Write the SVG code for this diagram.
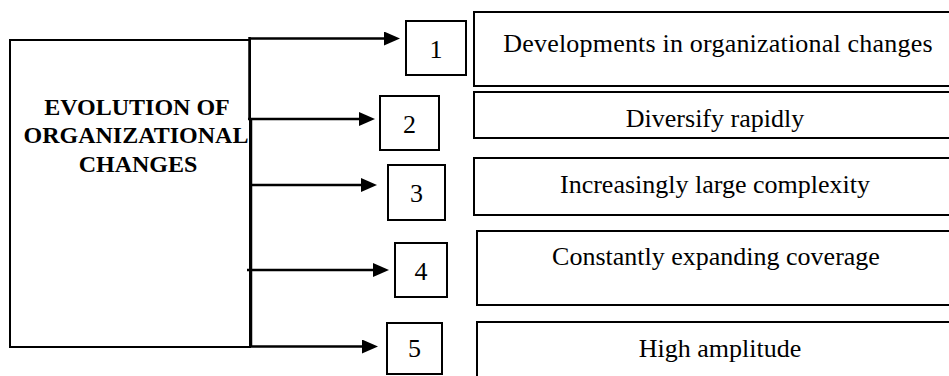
<svg xmlns="http://www.w3.org/2000/svg" width="949" height="376" viewBox="0 0 949 376">
<style>
.box{fill:none;stroke:#000;stroke-width:2}
.nbox{fill:#fff;stroke:#000;stroke-width:2}
.t{font-family:'Liberation Serif','Times New Roman',serif;font-size:26px;fill:#000;text-anchor:middle}
.b{font-family:'Liberation Serif','Times New Roman',serif;font-size:24px;font-weight:bold;fill:#000;text-anchor:middle}
.c{fill:none;stroke:#000;stroke-width:2.5}
</style>
<defs>
<marker id="ah" viewBox="0 0 16 14" refX="4" refY="7" markerWidth="16" markerHeight="14" markerUnits="userSpaceOnUse" orient="auto">
<path d="M0,0 L16,7 L0,14 z" fill="#000"/>
</marker>
</defs>
<rect width="949" height="376" fill="#fff"/>
<g id="main">
<rect class="box" x="10" y="40" width="240" height="307"/>
<text class="b" x="137" y="115">EVOLUTION OF</text>
<text class="b" x="136" y="143">ORGANIZATIONAL</text>
<text class="b" x="138" y="172">CHANGES</text>
</g>
<g id="connectors">
<path class="c" d="M249.5,37 V120"/>
<path class="c" d="M251,118 V347"/>
<path class="c" d="M249,38.5 H388" marker-end="url(#ah)"/>
<path class="c" d="M248,119 H363" marker-end="url(#ah)"/>
<path class="c" d="M251,185 H365" marker-end="url(#ah)"/>
<path class="c" d="M247,270 H377" marker-end="url(#ah)"/>
<path class="c" d="M251,346.5 H366" marker-end="url(#ah)"/>
</g>
<g id="n1"><rect class="nbox" x="406" y="21" width="60" height="54"/><text class="t" x="436" y="58">1</text></g>
<g id="n2"><rect class="nbox" x="380" y="96" width="59" height="54"/><text class="t" x="409.5" y="133">2</text></g>
<g id="n3"><rect class="nbox" x="388" y="165" width="57" height="55"/><text class="t" x="416.5" y="202">3</text></g>
<g id="n4"><rect class="nbox" x="395" y="243" width="52" height="54"/><text class="t" x="421" y="280">4</text></g>
<g id="n5"><rect class="nbox" x="387" y="323" width="55" height="51"/><text class="t" x="414.5" y="357">5</text></g>
<g id="t1"><rect class="box" x="474" y="12" width="490" height="74"/><text class="t" x="718" y="52" letter-spacing="0.2">Developments in organizational changes</text></g>
<g id="t2"><rect class="box" x="474" y="92" width="490" height="46"/><text class="t" x="715" y="127">Diversify rapidly</text></g>
<g id="t3"><rect class="box" x="474" y="158" width="490" height="57"/><text class="t" x="715" y="193">Increasingly large complexity</text></g>
<g id="t4"><rect class="box" x="477" y="231" width="490" height="74"/><text class="t" x="716" y="265">Constantly expanding coverage</text></g>
<g id="t5"><rect class="box" x="477" y="322" width="490" height="70"/><text class="t" x="720" y="357">High amplitude</text></g>
</svg>
